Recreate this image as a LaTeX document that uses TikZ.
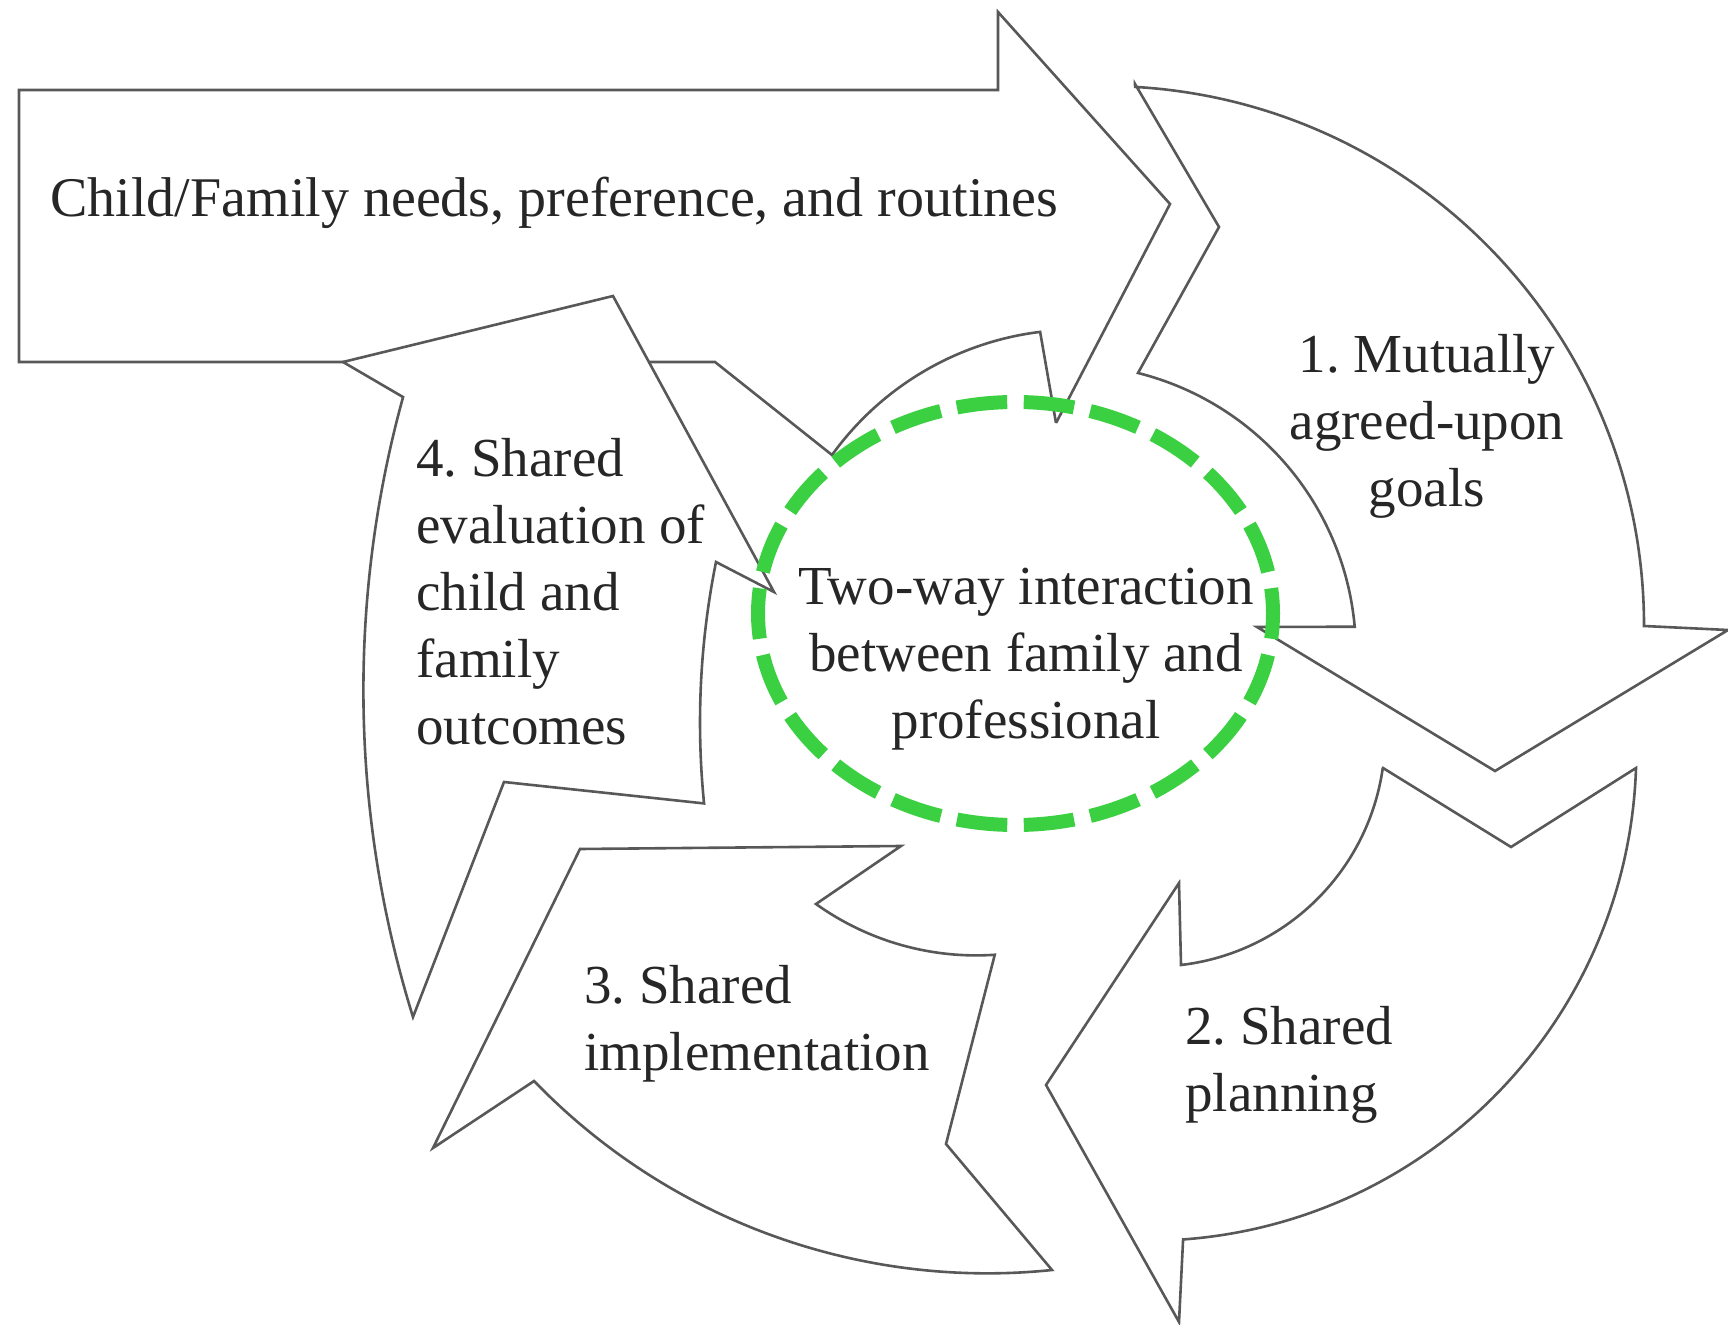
\documentclass[tikz,border=0pt]{standalone}
\usepackage{fontspec}
\setmainfont{Liberation Serif}
\frenchspacing
\definecolor{edgegray}{RGB}{88,88,88}
\definecolor{ringgreen}{RGB}{58,208,66}
\definecolor{inkgray}{RGB}{38,38,38}
\begin{document}
\begin{tikzpicture}[x=0.5pt,y=-0.5pt,
  outline/.style={draw=edgegray,line width=1.3pt,line join=miter},
  lbl/.style={font=\fontsize{27.5}{33.5}\selectfont,text=inkgray,inner sep=0pt},
  ring/.style={draw=ringgreen,line width=7pt,dash pattern=on 25.3pt off 8.27pt,dash phase=12.65pt}]
\useasboundingbox (0,0) rectangle (1728,1325);

% big straight arrow (partly hidden)
\draw[outline] (344,362) -- (19,362) -- (19,90) -- (998,90) -- (998,12) -- (1170,204) -- (1056,423);

% inner ring pieces
\draw[outline] (648,362) -- (715,362) -- (832,455)
  arc[start angle=-144.2,end angle=-97.0,radius=302] -- (1056,423);

% arrow 1
\draw[outline] (1135,84) -- (1219,227) -- (1138,373)
  arc[start angle=-75.9,end angle=-5.1,radius=288]
  -- (1257,627) -- (1495,771) -- (1728,630) -- (1644,626)
  arc[start angle=0,end angle=-86.7,radius=540] -- cycle;

% arrow 2
\draw[outline] (1383,768) -- (1511,847) -- (1636,768)
  arc[start angle=1.9,end angle=85.8,radius=489]
  -- (1179,1322) -- (1046,1085) -- (1179,883) -- (1181,965)
  arc[start angle=83.3,end angle=8.2,radius=231] -- cycle;

% arrow 3
\draw[outline] (580,849) -- (901,846) -- (816,904)
  arc[start angle=125.6,end angle=86.1,radius=275]
  -- (946,1144) -- (1052,1270)
  arc[start angle=84.1,end angle=136,radius=630]
  -- (433,1148) -- cycle;

% arrow 4
\draw[outline] (343,362) -- (613,296) -- (774,592) -- (716,562)
  arc[start angle=191.38,end angle=174.28,radius=813]
  -- (504,782) -- (413,1017)
  arc[start angle=162.74,end angle=195.42,radius=1102] -- cycle;

% labels
\node[lbl,font=\fontsize{28}{33.5}\selectfont,anchor=west,align=left] (needs) at (50,203) {Child/Family needs, preference, and routines};
\node[lbl,align=center] (goals) at (1427,426) {1. Mutually\\agreed-upon\\goals};
\node[lbl,align=center] (interact) at (1026,659) {Two-way interaction\\between family and\\professional};
\node[lbl,anchor=west,align=left] (evaluate) at (416,592) {4. Shared\\evaluation of\\child and\\family\\outcomes};
\node[lbl,anchor=west,align=left] (implement) at (584,1024) {3. Shared\\implementation};
\node[lbl,anchor=west,align=left] (planning) at (1185,1065) {2. Shared\\planning};

% green dashed ellipse
\draw[ring] (1015.5,613.5) ellipse [x radius=257.5,y radius=211.5];
\end{tikzpicture}
\end{document}
